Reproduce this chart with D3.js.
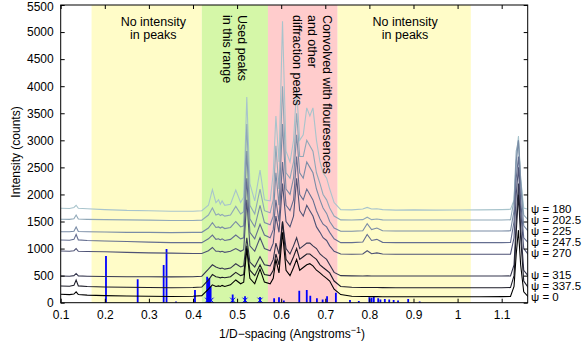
<!DOCTYPE html>
<html><head><meta charset="utf-8">
<script src="https://cdn.jsdelivr.net/npm/d3@7"></script>
<style>body{margin:0;background:#fff}svg text{font-family:"Liberation Sans",Arial,sans-serif}</style>
</head><body><svg id="c" width="584" height="347"></svg>
<script>
const dspacing = [0.100,0.120,0.130,0.135,0.140,0.160,0.200,0.250,0.300,0.350,0.400,0.420,0.435,0.444,0.452,0.458,0.462,0.466,0.472,0.485,0.497,0.508,0.515,0.522,0.529,0.540,0.552,0.562,0.575,0.582,0.588,0.595,0.603,0.611,0.620,0.628,0.635,0.642,0.650,0.658,0.665,0.672,0.680,0.688,0.695,0.703,0.710,0.720,0.735,0.760,0.785,0.795,0.805,0.817,0.830,0.860,0.900,0.950,1.000,1.050,1.100,1.120,1.128,1.133,1.138,1.143,1.150,1.160];
const psi180 = [1745,1740,1760,1800,1745,1735,1720,1705,1700,1690,1690,1700,1800,2090,1850,1900,1820,1880,1800,1820,2080,1850,1950,3800,2200,1880,2450,1900,1880,2400,3450,2600,5200,2800,2600,3000,3950,3000,3100,3600,3450,3600,3000,2600,2400,2300,2100,1850,1720,1715,1730,1760,1730,1735,1720,1710,1715,1710,1712,1715,1720,1725,1900,2600,3080,2300,1750,1725];
const psi202 = [1542,1540,1550,1620,1545,1540,1535,1530,1525,1520,1520,1525,1620,1750,1620,1640,1610,1630,1600,1620,1780,1640,1680,3300,1800,1640,2100,1700,1660,1900,2900,2100,4000,2400,2300,2600,3500,2700,2700,3000,2900,2800,2400,2200,2000,1900,1750,1600,1530,1528,1535,1580,1535,1545,1530,1528,1528,1528,1528,1528,1528,1532,1900,2800,3000,2300,1620,1528];
const psi225 = [1312,1310,1320,1400,1315,1310,1305,1300,1300,1295,1300,1300,1380,1480,1390,1400,1380,1400,1370,1390,1500,1400,1420,2800,1550,1400,1800,1480,1440,1600,2400,1800,3300,2100,2000,2300,3100,2400,2300,2600,2500,2400,2100,1900,1750,1650,1500,1380,1320,1320,1330,1460,1350,1380,1330,1325,1325,1324,1324,1324,1324,1328,1700,2600,3000,2200,1420,1324];
const psi247 = [1159,1155,1170,1260,1160,1150,1140,1130,1120,1110,1110,1110,1180,1250,1170,1180,1160,1180,1150,1170,1250,1180,1200,2300,1300,1180,1450,1250,1200,1350,1900,1500,2600,1800,1700,1900,2700,2000,1900,2100,2000,1900,1700,1550,1450,1400,1300,1180,1110,1110,1120,1260,1150,1170,1115,1110,1110,1109,1109,1109,1109,1112,1500,2300,2700,1900,1200,1109];
const psi270 = [956,950,960,1000,950,945,940,930,920,915,910,910,960,1020,950,950,940,950,930,950,1000,950,980,1900,1050,950,1200,1000,960,1100,1600,1300,2200,1500,1400,1600,2300,1700,1600,1800,1700,1600,1400,1300,1200,1150,1050,950,900,895,900,960,905,920,900,895,895,894,894,894,894,896,1200,2000,2500,1700,1000,894];
const psi315 = [494,490,500,540,495,490,485,480,480,478,480,490,620,700,660,640,630,640,620,640,720,660,680,1200,750,660,850,700,680,800,1100,900,1500,1000,900,1050,1200,1000,1050,1100,1100,1050,1000,900,850,800,700,560,500,495,493,495,493,493,493,493,493,493,493,493,493,495,700,1500,2200,1400,600,495];
const psi337 = [309,305,320,420,310,300,290,285,280,275,280,290,420,520,480,470,460,470,460,480,560,500,520,1050,600,500,700,520,500,600,900,700,1500,800,700,850,1000,800,850,900,900,850,800,700,650,600,550,400,300,285,280,282,280,280,278,277,277,277,277,277,277,280,500,1300,2000,1200,400,280];
const psi0 = [155,150,160,200,150,140,130,125,120,115,120,130,250,330,300,310,300,320,300,330,420,350,380,1000,450,350,620,380,350,450,800,550,1300,600,500,650,800,600,650,700,720,680,600,550,500,450,400,250,150,120,115,115,112,112,110,110,110,110,110,110,112,115,300,900,1340,700,200,112];
const seriesNames = ["ψ = 180","ψ = 202.5","ψ = 225","ψ = 247.5","ψ = 270","ψ = 315","ψ = 337.5","ψ = 0"];
const seriesValues = [psi180,psi202,psi225,psi247,psi270,psi315,psi337,psi0];
const seriesColors = ["#a8c4cc","#90a8b8","#7a8ca6","#646e90","#4e5275","#35364e","#1c1c28","#000000"];
const refPeakX = [0.2027,0.2746,0.3335,0.340,0.3615,0.4045,0.432,0.435,0.437,0.440,0.490,0.518,0.552,0.584,0.595,0.606,0.641,0.658,0.666,0.681,0.694,0.704,0.724,0.756,0.776,0.800,0.805,0.810,0.820,0.825,0.835,0.845,0.855,0.865,0.888,0.914];
const refPeakH = [862,432,696,992,20,235,481,420,456,300,150,120,105,80,100,40,222,236,130,80,60,120,185,50,30,100,90,110,80,60,70,60,50,40,70,20];
const usedPeakX = [0.433,0.441,0.490,0.518,0.552];
const bands = [[0.17,0.42,"#fffcc8"],[0.42,0.57,"#d5f7a8"],[0.57,0.728,"#ffcccc"],[0.728,1.03,"#fffcc8"]];
const xTicks = [0.1,0.2,0.3,0.4,0.5,0.6,0.7,0.8,0.9,1,1.1];
const yTicks = [0,500,1000,1500,2000,2500,3000,3500,4000,4500,5000,5500];

const svg = d3.select("#c");
const L=60.7,R=527.7,T=5,B=302.7;
const x = d3.scaleLinear().domain([0.1,1.159]).range([L,R]);
const y = d3.scaleLinear().domain([0,5500]).range([B,T]);

svg.selectAll("rect.band").data(bands).enter().append("rect")
  .attr("x",d=>x(d[0])).attr("width",d=>x(d[1])-x(d[0]))
  .attr("y",T).attr("height",B-T).attr("fill",d=>d[2]);

svg.append("clipPath").attr("id","cp").append("rect").attr("x",L).attr("y",T).attr("width",R-L).attr("height",B-T);
const g = svg.append("g").attr("clip-path","url(#cp)");

g.selectAll("line.ref").data(refPeakX).enter().append("line")
  .attr("x1",d=>x(d)).attr("x2",d=>x(d)).attr("y1",y(0))
  .attr("y2",(d,i)=>y(refPeakH[i])).attr("stroke","#0000ff").attr("stroke-width",1.8);

const line = d3.line().x((d,i)=>x(dspacing[i])).y(d=>y(d));
seriesValues.forEach((s,i)=>{
  g.append("path").attr("d",line(s)).attr("fill","none").attr("stroke",seriesColors[i]).attr("stroke-width",1.1);
});

// used-peak markers (blue x) at the base
const mk = svg.append("g");
usedPeakX.forEach(v=>{
  const cx=x(v), cy=y(0)-2.5, s=2.5;
  mk.append("line").attr("x1",cx-s).attr("y1",cy-s).attr("x2",cx+s).attr("y2",cy+s).attr("stroke","#0000ff").attr("stroke-width",1);
  mk.append("line").attr("x1",cx-s).attr("y1",cy+s).attr("x2",cx+s).attr("y2",cy-s).attr("stroke","#0000ff").attr("stroke-width",1);
});

const ax = svg.append("g");
ax.append("rect").attr("x",L).attr("y",T).attr("width",R-L).attr("height",B-T).attr("fill","none").attr("stroke","#000").attr("stroke-width",1);
const xb = d3.axisBottom(x).tickValues(xTicks).tickSizeInner(-4).tickSizeOuter(0).tickPadding(8).tickFormat(d3.format("~g"));
const xt = d3.axisTop(x).tickValues(xTicks).tickSizeInner(-4).tickSizeOuter(0).tickFormat("");
const yl = d3.axisLeft(y).tickValues(yTicks).tickSizeInner(-4).tickSizeOuter(0).tickPadding(7).tickFormat(d3.format("d"));
const yr = d3.axisRight(y).tickValues(yTicks).tickSizeInner(-4).tickSizeOuter(0).tickFormat("");
[[xb,`translate(0,${B})`],[xt,`translate(0,${T})`],[yl,`translate(${L},0)`],[yr,`translate(${R},0)`]].forEach(([a,t])=>{
  const gg = svg.append("g").attr("transform",t).call(a);
  gg.select(".domain").remove();
  gg.selectAll("text").attr("font-size",12).attr("fill","#000").attr("font-family","Liberation Sans, Arial, sans-serif");
  gg.selectAll("line").attr("stroke","#000");
});
// keep the top tick label inside the picture
svg.selectAll("text").filter(function(){return this.textContent==="5500";}).attr("y",1.5);

svg.append("text").attr("x",292).attr("y",338).attr("text-anchor","middle").attr("font-size",12)
  .html('1/D−spacing (Angstroms<tspan dy="-5" font-size="9">−1</tspan><tspan dy="5">)</tspan>');
svg.append("text").attr("transform","translate(20,152) rotate(-90)").attr("text-anchor","middle").attr("font-size",12).text("Intensity (counts)");

const ann = [[0.31,["No intensity","in peaks"]],[0.881,["No intensity","in peaks"]]];
ann.forEach(([xv,lines])=>{
  lines.forEach((t,j)=>svg.append("text").attr("x",x(xv)).attr("y",26+j*13).attr("text-anchor","middle").attr("font-size",12.5).text(t));
});
const vann = [[241.7,15,["Used peaks","in this range"]],[326.7,15,["Convolved with flouresences","and other","diffraction peaks"]]];
vann.forEach(([px,py,lines])=>{
  lines.forEach((t,j)=>svg.append("text").attr("transform",`translate(${px-j*14.7},${py}) rotate(90)`)
    .attr("dominant-baseline","central").attr("font-size",12.5).text(t));
});

const legY = [209.3,220,231,242,253,275,286,297];
seriesNames.forEach((n,i)=>{
  svg.append("text").attr("x",531).attr("y",legY[i]).attr("dominant-baseline","central").attr("font-size",11.5).text(n);
});
</script></body></html>
